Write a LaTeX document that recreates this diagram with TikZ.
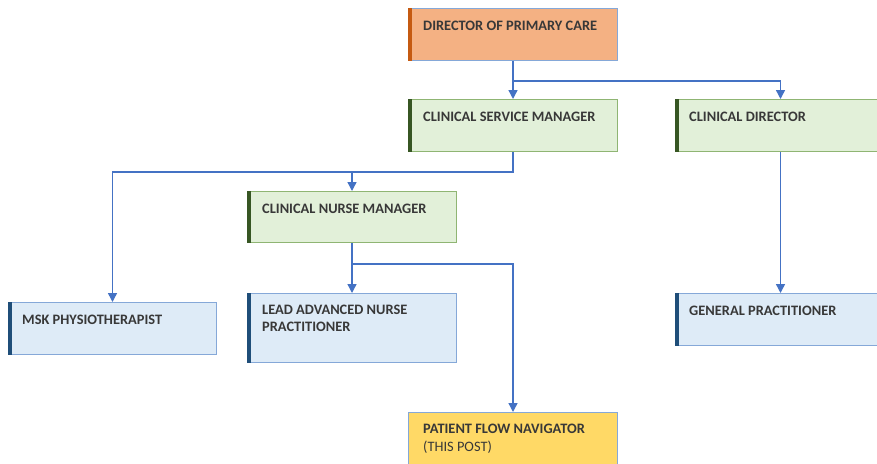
\documentclass[tikz,border=0pt]{standalone}
\usepackage{fontspec}
\setmainfont{Carlito}
\usetikzlibrary{arrows.meta,calc}
\definecolor{orfill}{HTML}{F4B183}
\definecolor{orbar}{HTML}{C55A11}
\definecolor{grfill}{HTML}{E2F0D9}
\definecolor{grline}{HTML}{8FB573}
\definecolor{grbar}{HTML}{375623}
\definecolor{blfill}{HTML}{DEEBF7}
\definecolor{blline}{HTML}{85A8D8}
\definecolor{blbar}{HTML}{1F4E79}
\definecolor{yefill}{HTML}{FFD966}
\definecolor{conncol}{HTML}{4472C4}
\definecolor{txtcol}{HTML}{383838}
\begin{document}
\begin{tikzpicture}[x=1pt,y=-1pt,
  box/.style={draw, line width=1pt, anchor=north west, inner sep=0pt},
  orbox/.style={box, fill=orfill, draw=blline},
  grbox/.style={box, fill=grfill, draw=grline},
  blbox/.style={box, fill=blfill, draw=blline},
  yebox/.style={box, fill=yefill, draw=blline},
  lbl/.style={anchor=north west, inner sep=0pt, text=txtcol, align=left,
    font=\fontsize{14.4}{17}\selectfont\bfseries},
  conn/.style={draw=conncol, line width=1.4pt},
  arr/.style={conn, -{Triangle[width=9pt,length=9pt]}}]
\useasboundingbox (0,0) rectangle (877,463);
\clip (0,0) rectangle (877,463);
\fill[white] (0,0) rectangle (877,463);

% boxes
\node[orbox, minimum width=209, minimum height=52] (dir) at (408,8) {};
\node[grbox, minimum width=209, minimum height=52] (csm) at (408,99) {};
\node[grbox, minimum width=210, minimum height=52] (cd) at (675,99) {};
\node[grbox, minimum width=209, minimum height=51] (cnm) at (247,191) {};
\node[blbox, minimum width=208, minimum height=52] (msk) at (8,302) {};
\node[blbox, minimum width=209, minimum height=69] (lanp) at (247,293) {};
\node[blbox, minimum width=210, minimum height=52] (gp) at (675,293) {};
\node[yebox, minimum width=209, minimum height=60] (pfn) at (408,412) {};

% accent bars
\fill[orbar] (dir.north west) rectangle ($(dir.south west)+(4,0)$);
\fill[grbar] (csm.north west) rectangle ($(csm.south west)+(4,0)$);
\fill[grbar] (cd.north west) rectangle ($(cd.south west)+(4,0)$);
\fill[grbar] (cnm.north west) rectangle ($(cnm.south west)+(4,0)$);
\fill[blbar] (msk.north west) rectangle ($(msk.south west)+(4,0)$);
\fill[blbar] (lanp.north west) rectangle ($(lanp.south west)+(4,0)$);
\fill[blbar] (gp.north west) rectangle ($(gp.south west)+(4,0)$);

% labels
\node[lbl] (dir-t) at ($(dir.north west)+(15,13)$) {DIRECTOR OF PRIMARY CARE};
\node[lbl] (csm-t) at ($(csm.north west)+(15,13)$) {CLINICAL SERVICE MANAGER};
\node[lbl] (cd-t) at ($(cd.north west)+(14,13)$) {CLINICAL DIRECTOR};
\node[lbl] (cnm-t) at ($(cnm.north west)+(15,13)$) {CLINICAL NURSE MANAGER};
\node[lbl] (msk-t) at ($(msk.north west)+(14,13)$) {MSK PHYSIOTHERAPIST};
\node[lbl] (lanp-t) at ($(lanp.north west)+(15,12)$) {LEAD ADVANCED NURSE\\PRACTITIONER};
\node[lbl] (gp-t) at ($(gp.north west)+(14,13)$) {GENERAL PRACTITIONER};
\node[lbl] (pfn-t) at ($(pfn.north west)+(15,12)$) {PATIENT FLOW NAVIGATOR\\[1pt]\mdseries (THIS POST)};

% connectors
\coordinate (j1) at ($(dir.south)+(0,20)$);
\coordinate (j2) at ($(csm.south)+(0,20)$);
\coordinate (j3) at ($(cnm.south)+(0,21)$);
\draw[arr] (dir.south) -- (j1) -| (cd.north);
\draw[arr] (j1) -- (csm.north);
\draw[arr] (csm.south) -- (j2) -| (msk.north);
\draw[arr] (j2 -| cnm.north) -- (cnm.north);
\draw[arr] (cnm.south) -- (lanp.north);
\draw[arr] (j3) -| (pfn.north);
\draw[arr] (cd.south) -- (gp.north);
\end{tikzpicture}
\end{document}
